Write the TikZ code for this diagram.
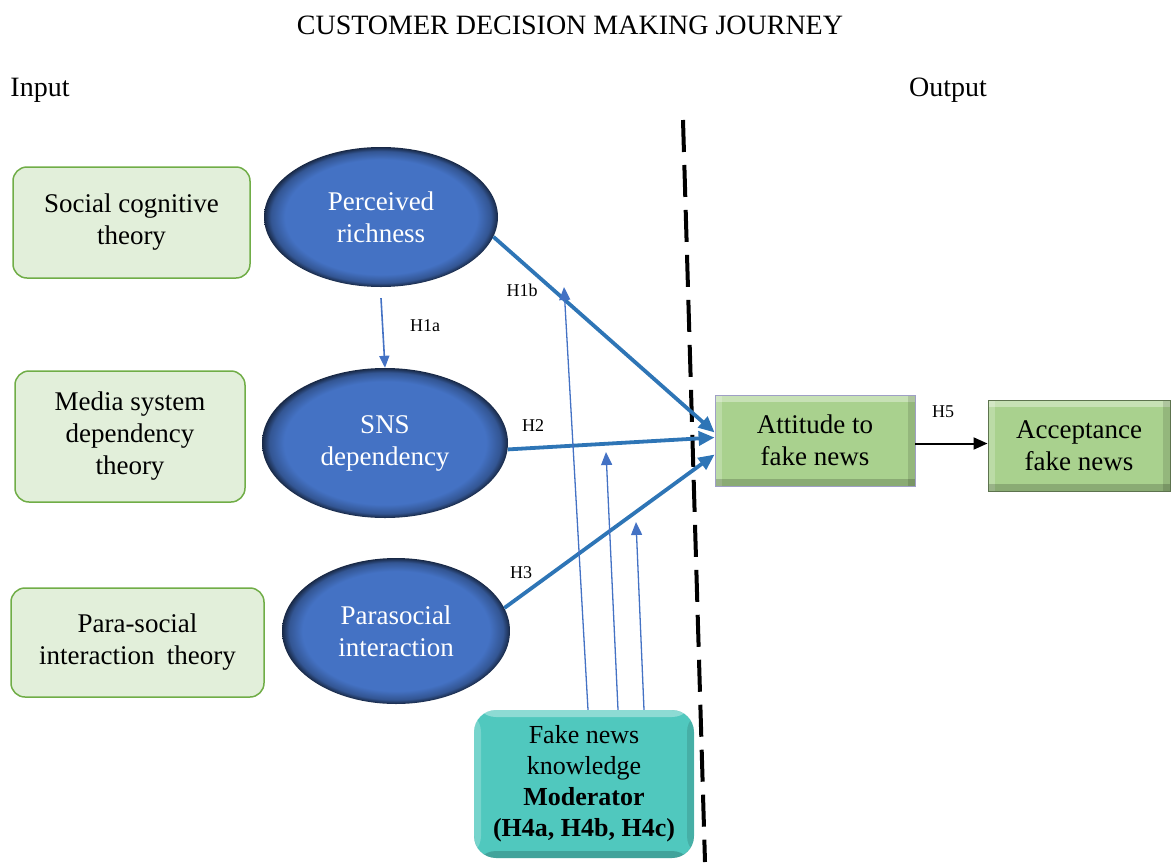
\documentclass[tikz,border=0pt]{standalone}
\usepackage{fontspec}
\setmainfont{Liberation Serif}
\usetikzlibrary{shapes.geometric,arrows.meta}

\definecolor{ellblue}{HTML}{4472C4}
\definecolor{arrblue}{HTML}{2E75B6}
\definecolor{thinblue}{HTML}{4472C4}
\definecolor{theoryfill}{HTML}{E2EFDA}
\definecolor{theoryline}{HTML}{70AD47}
\definecolor{outgreen}{HTML}{A9D18E}
\definecolor{modteal}{HTML}{50C8BE}

% elliptical fill that darkens towards the rim (25bp = the rim)
\pgfdeclareradialshading{ellshade}{\pgfpoint{0bp}{0bp}}{color(0bp)=(ellblue); color(20.5bp)=(ellblue); color(23.5bp)=(ellblue!75!black); color(25bp)=(ellblue!35!black); color(50bp)=(ellblue!35!black)}

\tikzset{
  x=1pt, y=-1pt,
  txt/.style={font=\fontsize{26}{32}\selectfont, align=center},
  theory/.style={txt, draw=theoryline, line width=1.5pt, fill=theoryfill, rounded corners=14pt, inner sep=0pt,
    font=\fontsize{27}{32}\selectfont},
  construct/.style={txt, ellipse, shading=ellshade, text=white, inner sep=0pt,
    font=\fontsize{27}{32}\selectfont},
  bevel/.style={path picture={
      \fill[white, opacity=0.35] (path picture bounding box.north west) rectangle ([yshift=-7pt]path picture bounding box.north east);
      \fill[white, opacity=0.22] (path picture bounding box.north west) rectangle ([xshift=7pt]path picture bounding box.south west);
      \fill[black, opacity=0.18] ([yshift=7pt]path picture bounding box.south west) rectangle (path picture bounding box.south east);
      \fill[black, opacity=0.12] ([xshift=-7pt]path picture bounding box.north east) rectangle (path picture bounding box.south east);
  }},
  outbox/.style={txt, fill=outgreen, bevel, inner sep=0pt, font=\fontsize{27}{32}\selectfont},
  modbox/.style={txt, fill=modteal, bevel, rounded corners=22pt, inner sep=0pt, font=\fontsize{26}{31}\selectfont},
  hyp/.style={font=\fontsize{18}{20}\selectfont},
  thick arrow/.style={draw=arrblue, line width=3.8pt, -{Triangle[length=16pt,width=14pt]}},
  thin arrow/.style={draw=thinblue, line width=1.3pt, -{Triangle[length=13pt,width=11pt]}},
  main arrow/.style={draw=thinblue, line width=1.6pt, -{Triangle[length=12pt,width=10pt]}},
}

\begin{document}
\begin{tikzpicture}
\useasboundingbox (0,0) rectangle (1172,862);

% headings
\node[font=\fontsize{28}{32}\selectfont] (title) at (570,25) {CUSTOMER DECISION MAKING JOURNEY};
\node[font=\fontsize{28}{32}\selectfont] (input) at (40,90) {Input};
\node[font=\fontsize{28}{32}\selectfont] (output) at (948,90) {Output};

% theories
\node[theory, minimum width=237pt, minimum height=111pt] (t1) at (131.5,222.5) {Social cognitive\\theory};
\node[theory, minimum width=230pt, minimum height=131pt] (t2) at (130,436.5) {Media system\\dependency\\theory};
\node[theory, minimum width=253pt, minimum height=109pt] (t3) at (137.5,642.5) {Para-social\\interaction\hspace{0.2em} theory};

% constructs
\node[construct, minimum width=234pt, minimum height=140pt] (e1) at (381,217) {Perceived\\richness};
\node[construct, minimum width=246pt, minimum height=150pt] (e2) at (385,443) {SNS\\dependency};
\node[construct, minimum width=228pt, minimum height=146pt] (e3) at (396,631) {Parasocial\\interaction};

% outcomes
\node[outbox, draw=blue!25!gray!60, line width=0.8pt, minimum width=200pt, minimum height=91pt] (att) at (815,440.5) {Attitude to\\fake news};
\node[outbox, draw=outgreen!55!black, line width=1pt, minimum width=182pt, minimum height=91pt] (acc) at (1079,445.5) {Acceptance\\fake news};

% moderator
\node[modbox, minimum width=220pt, minimum height=148pt] (mod) at (584,784)
  {Fake news\\knowledge\\{\bfseries Moderator}\\{\bfseries (H4a, H4b, H4c)}};

% input / output divider
\coordinate (divtop) at (683,120);
\coordinate (divbot) at (705,862);
\draw[line width=4pt, dash pattern=on 32pt off 13pt] (divtop) -- (divbot);

% hypothesised paths
\draw[main arrow] ([yshift=-11pt]e1.south) -- (e2.north);
\draw[thick arrow] (e1.-10) -- ([yshift=8pt]att.west);
\draw[thick arrow] (e2.-3) -- ([yshift=3pt]att.west);
\draw[thick arrow] (e3.12) -- ([yshift=-14pt]att.west);
\draw[line width=2pt, -{Triangle[length=14pt,width=12pt]}] ([yshift=-3pt]att.east) -- ([yshift=2pt]acc.west);

% moderating paths
\coordinate (m1) at (564,287);
\coordinate (m2) at (606,452);
\coordinate (m3) at (636,522);
\draw[thin arrow] ([xshift=4pt]mod.north) -- (m1);
\draw[thin arrow] ([xshift=34pt]mod.north) -- (m2);
\draw[thin arrow] ([xshift=60pt]mod.north) -- (m3);

% path labels
\node[hyp] (l1a) at (425,326) {H1a};
\node[hyp] (l1b) at (522,290) {H1b};
\node[hyp] (l2) at (533,426) {H2};
\node[hyp] (l3) at (521,573) {H3};
\node[hyp] (l5) at (943,412) {H5};
\end{tikzpicture}
\end{document}
